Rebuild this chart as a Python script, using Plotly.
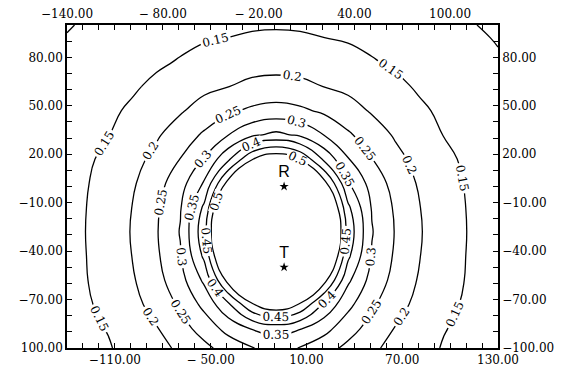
import plotly.graph_objects as go

# ---- data ----
x_nodes = [-140, -129, -114, -99, -84, -69, -54, -39, -24, -9, 6, 21, 36, 51, 66, 81, 96, 111, 130]
y_nodes = [-100, -88, -73, -58, -43, -28, -13, 2, 17, 32, 47, 62, 77, 92, 100]

z_rows = [
    [0.128, 0.136, 0.147, 0.165, 0.186, 0.208, 0.238, 0.270, 0.299, 0.309, 0.299, 0.270, 0.238, 0.208, 0.186, 0.165, 0.147, 0.136, 0.123],
    [0.132, 0.140, 0.152, 0.175, 0.197, 0.231, 0.270, 0.317, 0.353, 0.372, 0.353, 0.317, 0.270, 0.231, 0.197, 0.175, 0.152, 0.140, 0.126],
    [0.135, 0.144, 0.161, 0.186, 0.217, 0.258, 0.314, 0.391, 0.495, 0.540, 0.495, 0.391, 0.314, 0.258, 0.217, 0.186, 0.161, 0.144, 0.129],
    [0.138, 0.147, 0.168, 0.195, 0.233, 0.282, 0.360, 0.520, 0.668, 0.730, 0.668, 0.520, 0.360, 0.282, 0.233, 0.195, 0.168, 0.147, 0.132],
    [0.140, 0.148, 0.173, 0.201, 0.242, 0.296, 0.411, 0.620, 0.810, 0.920, 0.810, 0.620, 0.411, 0.296, 0.242, 0.201, 0.173, 0.148, 0.133],
    [0.140, 0.149, 0.175, 0.203, 0.246, 0.303, 0.434, 0.660, 0.880, 1.000, 0.880, 0.660, 0.434, 0.303, 0.246, 0.203, 0.175, 0.149, 0.134],
    [0.140, 0.148, 0.173, 0.201, 0.242, 0.296, 0.411, 0.620, 0.810, 0.920, 0.810, 0.620, 0.411, 0.296, 0.242, 0.201, 0.173, 0.148, 0.133],
    [0.138, 0.146, 0.167, 0.194, 0.231, 0.280, 0.356, 0.520, 0.668, 0.730, 0.668, 0.520, 0.356, 0.280, 0.231, 0.194, 0.167, 0.146, 0.132],
    [0.135, 0.143, 0.159, 0.184, 0.213, 0.251, 0.303, 0.390, 0.497, 0.540, 0.497, 0.390, 0.303, 0.251, 0.213, 0.184, 0.159, 0.143, 0.129],
    [0.131, 0.139, 0.149, 0.171, 0.194, 0.224, 0.257, 0.299, 0.341, 0.362, 0.341, 0.299, 0.257, 0.224, 0.194, 0.171, 0.149, 0.139, 0.125],
    [0.125, 0.132, 0.143, 0.156, 0.177, 0.195, 0.219, 0.241, 0.259, 0.268, 0.259, 0.241, 0.219, 0.195, 0.177, 0.156, 0.143, 0.132, 0.119],
    [0.118, 0.125, 0.135, 0.145, 0.158, 0.175, 0.189, 0.199, 0.211, 0.215, 0.211, 0.199, 0.189, 0.175, 0.158, 0.145, 0.135, 0.125, 0.113],
    [0.111, 0.118, 0.127, 0.136, 0.144, 0.153, 0.165, 0.175, 0.181, 0.183, 0.181, 0.175, 0.165, 0.153, 0.144, 0.136, 0.127, 0.118, 0.105],
    [0.102, 0.109, 0.117, 0.126, 0.133, 0.140, 0.146, 0.1502, 0.155, 0.157, 0.155, 0.1502, 0.146, 0.140, 0.133, 0.126, 0.117, 0.109, 0.097],
    [0.097, 0.104, 0.112, 0.120, 0.127, 0.134, 0.139, 0.143, 0.145, 0.146, 0.145, 0.143, 0.139, 0.134, 0.127, 0.120, 0.112, 0.104, 0.091],
]

# drawn contour levels 0.10 ... 0.50 (levels below the data minimum draw nothing;
# starting the list low only makes Plotly place more labels along each line)
level_start = -2.90
level_end = 0.50
level_step = 0.05

point_names = ["R", "T"]
point_x = [-4, -4]
point_y = [0, -50]

x_range = [-140, 130]
y_range = [-100, 100]
minor_step = 10

bottom_tick_vals = [-110, -50, 10, 70, 130]
bottom_tick_text = ["\u2212110.00", "\u2212 50.00", "10.00", "70.00", "130.00"]
top_tick_vals = [-140, -80, -20, 40, 100]
top_tick_text = ["\u2212140.00", "\u2212 80.00", "\u2212 20.00", "40.00", "100.00"]
left_tick_vals = [80, 50, 20, -10, -40, -70, -100]
left_tick_text = ["80.00", "50.00", "20.00", "\u221210.00", "\u221240.00", "\u221270.00", "100.00"]
right_tick_vals = [80, 50, 20, -10, -40, -70, -100]
right_tick_text = ["80.00", "50.00", "20.00", "\u221210.00", "\u221240.00", "\u221270.00", "\u2212100.00"]


def full_ticks(lo, hi, labelled_vals, labelled_text):
    vals = list(range(lo, hi + 1, minor_step))
    lookup = dict(zip(labelled_vals, labelled_text))
    text = [lookup.get(v, "") for v in vals]
    return vals, text


TICK_FONT = dict(family="DejaVu Serif", size=12, color="black")

fig = go.Figure()
fig.add_trace(go.Contour(
    x=x_nodes, y=y_nodes, z=z_rows,
    autocontour=False,
    contours=dict(start=level_start, end=level_end, size=level_step,
                  coloring="none", showlabels=True,
                  labelfont=dict(family="DejaVu Serif", size=12, color="black")),
    line=dict(color="black", width=1.3, smoothing=1.3),
    showscale=False, hoverinfo="skip",
))
fig.add_trace(go.Scatter(
    x=point_x, y=point_y, mode="markers+text", text=point_names,
    textposition="top center",
    textfont=dict(family="Liberation Sans", size=16, color="black"),
    marker=dict(symbol="star", size=7, color="black"),
    hoverinfo="skip", showlegend=False,
))
fig.add_trace(go.Scatter(x=[None], y=[None], xaxis="x2", yaxis="y2",
                         mode="markers", showlegend=False, hoverinfo="skip"))

bx_vals, bx_text = full_ticks(x_range[0], x_range[1], bottom_tick_vals, bottom_tick_text)
tx_vals, tx_text = full_ticks(x_range[0], x_range[1], top_tick_vals, top_tick_text)
ly_vals, ly_text = full_ticks(y_range[0], y_range[1], left_tick_vals, left_tick_text)
ry_vals, ry_text = full_ticks(y_range[0], y_range[1], right_tick_vals, right_tick_text)

axis_common = dict(showline=True, linecolor="black", linewidth=1.5, showgrid=False,
                   zeroline=False, ticks="inside", ticklen=5, tickwidth=1,
                   tickcolor="black", tickfont=TICK_FONT, fixedrange=True,
                   automargin=False)

fig.update_layout(
    width=583, height=373,
    margin=dict(l=67, r=85, t=25, b=25),
    paper_bgcolor="white", plot_bgcolor="white",
    showlegend=False,
    xaxis=dict(range=x_range, side="bottom", tickmode="array",
               tickvals=bx_vals, ticktext=bx_text, **axis_common),
    xaxis2=dict(range=x_range, side="top", overlaying="x", tickmode="array",
                tickvals=tx_vals, ticktext=tx_text, **axis_common),
    yaxis=dict(range=y_range, side="left", tickmode="array",
               tickvals=ly_vals, ticktext=ly_text, **axis_common),
    yaxis2=dict(range=y_range, side="right", overlaying="y", tickmode="array",
                tickvals=ry_vals, ticktext=ry_text, **axis_common),
)

fig.write_html("out.html")
